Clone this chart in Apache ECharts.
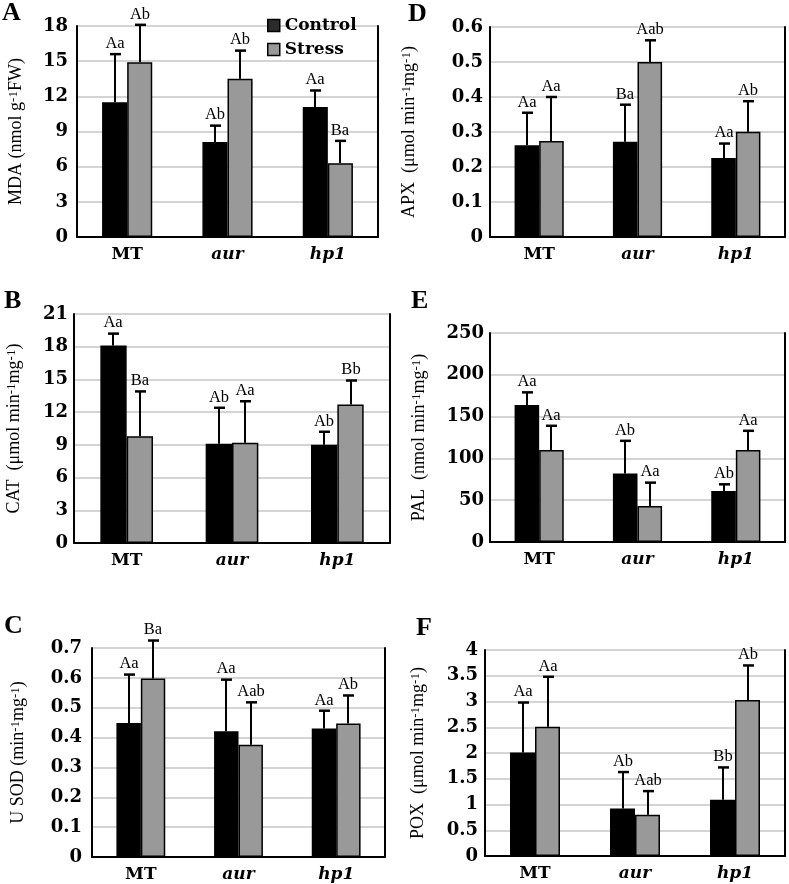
<!DOCTYPE html>
<html><head><meta charset="utf-8">
<script src="https://cdn.jsdelivr.net/npm/echarts@6/dist/echarts.min.js"></script>
<style>html,body{margin:0;padding:0;background:#fff}#c{width:789px;height:884px}</style>
</head><body><div id="c"></div>
<script>
// ---------- DATA ----------
const categories = ['MT', 'aur', 'hp1'];
const seriesNames = ['Control', 'Stress'];

// A: MDA (nmol g-1 FW)
const mdaControl = [11.5, 8.1, 11.1];
const mdaControlSD = [4.1, 1.4, 1.4];
const mdaStress = [14.9, 13.5, 6.3];
const mdaStressSD = [3.2, 2.4, 1.9];
const mdaControlSig = ['Aa', 'Ab', 'Aa'];
const mdaStressSig = ['Ab', 'Ab', 'Ba'];
const mdaAxis = [0, 18, 3];

// D: APX
const apxControl = [0.262, 0.272, 0.226];
const apxControlSD = [0.093, 0.106, 0.041];
const apxStress = [0.274, 0.50, 0.301];
const apxStressSD = [0.126, 0.062, 0.087];
const apxControlSig = ['Aa', 'Ba', 'Aa'];
const apxStressSig = ['Aa', 'Aab', 'Ab'];
const apxAxis = [0, 0.6, 0.1];

// B: CAT
const catControl = [18.1, 9.1, 9.0];
const catControlSD = [1.1, 3.3, 1.2];
const catStress = [9.8, 9.2, 12.7];
const catStressSD = [4.1, 3.8, 2.2];
const catControlSig = ['Aa', 'Ab', 'Ab'];
const catStressSig = ['Ba', 'Aa', 'Bb'];
const catAxis = [0, 21, 3];

// E: PAL
const palControl = [164, 82, 61];
const palControlSD = [15, 39, 8];
const palStress = [110, 43, 110];
const palStressSD = [29, 28, 23];
const palControlSig = ['Aa', 'Ab', 'Ab'];
const palStressSig = ['Aa', 'Aa', 'Aa'];
const palAxis = [0, 250, 50];

// C: U SOD
const sodControl = [0.449, 0.421, 0.43];
const sodControlSD = [0.162, 0.173, 0.06];
const sodStress = [0.598, 0.376, 0.447];
const sodStressSD = [0.127, 0.142, 0.094];
const sodControlSig = ['Aa', 'Aa', 'Aa'];
const sodStressSig = ['Ba', 'Aab', 'Ab'];
const sodAxis = [0, 0.7, 0.1];

// F: POX
const poxControl = [2.01, 0.92, 1.09];
const poxControlSD = [0.97, 0.71, 0.63];
const poxStress = [2.51, 0.80, 3.03];
const poxStressSD = [0.97, 0.46, 0.67];
const poxControlSig = ['Aa', 'Ab', 'Bb'];
const poxStressSig = ['Aa', 'Aab', 'Ab'];
const poxAxis = [0, 4, 0.5];

const panelLetters = ['A', 'D', 'B', 'E', 'C', 'F'];
const axisNames = [
  'MDA (nmol g{sup|-1}FW)',
  'APX  (μmol min{sup|-1}mg{sup|-1})',
  'CAT  (μmol min{sup|-1}mg{sup|-1})',
  'PAL  (nmol min{sup|-1}mg{sup|-1})',
  'U SOD (min{sup|-1}mg{sup|-1})',
  'POX  (μmol min{sup|-1}mg{sup|-1})'
];

const panelsData = [
  [mdaControl, mdaControlSD, mdaControlSig, mdaStress, mdaStressSD, mdaStressSig, mdaAxis],
  [apxControl, apxControlSD, apxControlSig, apxStress, apxStressSD, apxStressSig, apxAxis],
  [catControl, catControlSD, catControlSig, catStress, catStressSD, catStressSig, catAxis],
  [palControl, palControlSD, palControlSig, palStress, palStressSD, palStressSig, palAxis],
  [sodControl, sodControlSD, sodControlSig, sodStress, sodStressSD, sodStressSig, sodAxis],
  [poxControl, poxControlSD, poxControlSig, poxStress, poxStressSD, poxStressSig, poxAxis]
];

// ---------- LAYOUT ----------
const layout = [
  {grid: {left: 77, top: 26, width: 301, height: 211}, nameGap: 52, margin: 9, letter: [2, 0]},
  {grid: {left: 490, top: 27, width: 295, height: 210}, nameGap: 72, margin: 7, letter: [408, 1]},
  {grid: {left: 74, top: 314, width: 316, height: 229}, nameGap: 51, margin: 6, letter: [4, 288]},
  {grid: {left: 490, top: 333, width: 295, height: 209}, nameGap: 62, margin: 6, letter: [411, 288]},
  {grid: {left: 92, top: 648, width: 293, height: 209}, nameGap: 65, margin: 10, letter: [4, 613]},
  {grid: {left: 485, top: 650, width: 300, height: 206}, nameGap: 58, margin: 7, letter: [416, 615]}
];

const chart = echarts.init(document.getElementById('c'), null, {renderer: 'canvas'});

function errRender(sign, sig) {
  return function (params, api) {
    const band = api.size([1, 0])[0];
    const c = api.coord([api.value(0), api.value(1)]);
    const t = api.coord([api.value(0), api.value(2)]);
    const x = Math.round(c[0] + sign * band * 0.125);
    return {
      type: 'group',
      children: [
        {type: 'line', shape: {x1: x, y1: c[1], x2: x, y2: t[1]}, style: {stroke: '#000', lineWidth: 2}},
        {type: 'line', shape: {x1: x - 5, y1: t[1], x2: x + 6, y2: t[1]}, style: {stroke: '#000', lineWidth: 2.5}},
        {type: 'text', style: {text: sig[params.dataIndex], x: x, y: t[1] - 2, align: 'center', verticalAlign: 'bottom',
          fontSize: 16.5, fontFamily: 'Liberation Serif', fill: '#000'}}
      ]
    };
  };
}

const grids = [], xAxes = [], yAxes = [], series = [], graphics = [];
panelsData.forEach(function (pd, i) {
  const L = layout[i];
  grids.push(Object.assign({outerBoundsMode: 'none', containLabel: false}, L.grid));
  xAxes.push({
    type: 'category', gridIndex: i, data: categories,
    axisLine: {show: true, lineStyle: {color: '#000', width: 2}},
    axisTick: {show: false},
    axisLabel: {
      margin: 9, color: '#000',
      formatter: function (v) { return v === 'MT' ? '{n|' + v + '}' : '{i|' + v + '}'; },
      rich: {
        n: {fontFamily: 'DejaVu Serif', fontWeight: 'bold', fontSize: 17, color: '#000'},
        i: {fontFamily: 'DejaVu Serif', fontWeight: 'bold', fontStyle: 'italic', fontSize: 17, color: '#000'}
      }
    }
  });
  const ax = pd[6];
  yAxes.push({
    type: 'value', gridIndex: i, min: ax[0], max: ax[1], interval: ax[2], position: 'left',
    axisLine: {show: true, lineStyle: {color: '#000', width: 2}},
    axisTick: {show: false},
    splitLine: {show: true, lineStyle: {color: '#c6c6c6', width: 1.5}},
    axisLabel: {margin: L.margin, color: '#000', fontFamily: 'DejaVu Serif', fontWeight: 'bold', fontSize: 18},
    name: axisNames[i], nameLocation: 'middle', nameGap: L.nameGap,
    nameTextStyle: {
      color: '#000', fontFamily: 'Liberation Serif', fontSize: 18,
      rich: {sup: {fontFamily: 'Liberation Serif', fontSize: 13, verticalAlign: 'top', color: '#000'}}
    }
  });
  yAxes.push({
    type: 'value', gridIndex: i, min: 0, max: 1, position: 'right',
    axisLine: {show: true, lineStyle: {color: '#000', width: 2}},
    axisTick: {show: false}, axisLabel: {show: false}, splitLine: {show: false}
  });
  const yi = 2 * i;
  series.push({
    name: seriesNames[0], type: 'bar', xAxisIndex: i, yAxisIndex: yi, data: pd[0],
    barCategoryGap: '50%', barGap: '0%',
    itemStyle: {color: '#000', borderColor: '#000', borderWidth: 1.5}
  });
  series.push({
    name: seriesNames[1], type: 'bar', xAxisIndex: i, yAxisIndex: yi, data: pd[3],
    barCategoryGap: '50%', barGap: '0%',
    itemStyle: {color: '#999999', borderColor: '#000', borderWidth: 1.5}
  });
  series.push({
    type: 'custom', xAxisIndex: i, yAxisIndex: yi, z: 5,
    data: pd[0].map(function (v, k) { return [k, v, v + pd[1][k]]; }),
    encode: {x: 0, y: [1, 2]},
    renderItem: errRender(-1, pd[2])
  });
  series.push({
    type: 'custom', xAxisIndex: i, yAxisIndex: yi, z: 5,
    data: pd[3].map(function (v, k) { return [k, v, v + pd[4][k]]; }),
    encode: {x: 0, y: [1, 2]},
    renderItem: errRender(1, pd[5])
  });
  graphics.push({
    type: 'text', left: L.letter[0], top: L.letter[1],
    style: {text: panelLetters[i], fontFamily: 'Liberation Serif', fontWeight: 'bold', fontSize: 26, fill: '#000'}
  });
});

chart.setOption({
  animation: false,
  backgroundColor: '#fff',
  grid: grids, xAxis: xAxes, yAxis: yAxes, series: series, graphic: graphics,
  legend: {
    orient: 'vertical', left: 262, top: 12, itemWidth: 12, itemHeight: 12, itemGap: 7,
    icon: 'rect',
    data: [
      {name: 'Control', icon: 'rect', itemStyle: {color: '#2b2b2b', borderColor: '#000', borderWidth: 1.5}},
      {name: 'Stress', icon: 'rect', itemStyle: {color: '#999999', borderColor: '#000', borderWidth: 1.5}}
    ],
    textStyle: {fontFamily: 'DejaVu Serif', fontWeight: 'bold', fontSize: 17, color: '#000'},
    selectedMode: false
  }
});
</script>
</body></html>
